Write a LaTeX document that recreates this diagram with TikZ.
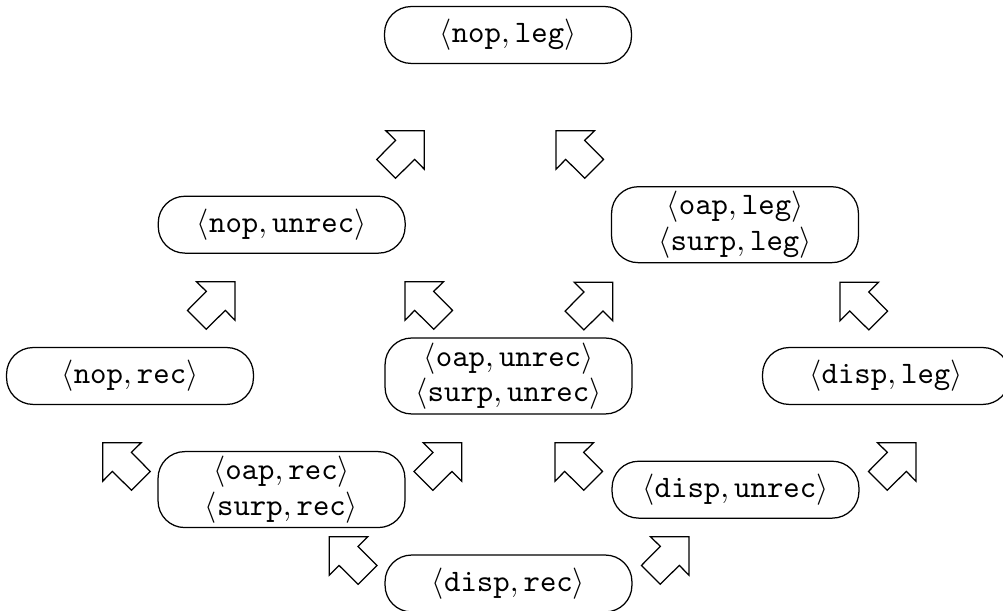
\documentclass[tikz,border=0pt]{standalone}
\begin{document}
\begin{tikzpicture}[x=0.32pt,y=-0.32pt,
  state/.style={draw, rounded corners=8.5pt, minimum width=79pt, minimum height=18.2pt, inner sep=1pt, align=center},
  dstate/.style={state, minimum height=24.3pt},
  nearrow/.pic={\draw[line join=miter] (0,0) -- (0,38.5) -- (-9.7,28.7) -- (-28.8,47.6) -- (-47.6,28.8) -- (-28.7,9.7) -- (-38.5,0) -- cycle;},
  nwarrow/.pic={\draw[line join=miter] (0,0) -- (0,38.5) -- (9.7,28.7) -- (28.8,47.6) -- (47.6,28.8) -- (28.7,9.7) -- (38.5,0) -- cycle;}
]
\newcommand{\st}[2]{$\langle\mathtt{#1},\mathtt{#2}\rangle$}
\useasboundingbox (0,0) rectangle (1003,611);
\clip (0,0) rectangle (1003,611);
\node[state] (nopleg) at (508,35) {\st{nop}{leg}};
\node[state] (nopunrec) at (281.7,224.7) {\st{nop}{unrec}};
\node[dstate] (oapleg) at (735,224.7) {\st{oap}{leg}\\[-0.7pt]\st{surp}{leg}};
\node[state] (noprec) at (130,376) {\st{nop}{rec}};
\node[dstate] (oapunrec) at (508.5,376) {\st{oap}{unrec}\\[-0.7pt]\st{surp}{unrec}};
\node[state] (displeg) at (886,376) {\st{disp}{leg}};
\node[dstate] (oaprec) at (281.5,489.6) {\st{oap}{rec}\\[-0.7pt]\st{surp}{rec}};
\node[state] (dispunrec) at (735.5,489.7) {\st{disp}{unrec}};
\node[state] (disprec) at (508.5,583.5) {\st{disp}{rec}};
\pic (a1) at (424.3,130.7) {nearrow};
\pic (a2) at (556,130.7) {nwarrow};
\pic (a3) at (235,281.7) {nearrow};
\pic (a4) at (405,281.7) {nwarrow};
\pic (a5) at (612.7,282.3) {nearrow};
\pic (a6) at (840,282.3) {nwarrow};
\pic (a7) at (102.7,442.7) {nwarrow};
\pic (a8) at (461.7,442.7) {nearrow};
\pic (a9) at (555,442.7) {nwarrow};
\pic (a10) at (916,442.7) {nearrow};
\pic (a11) at (329.3,536.7) {nwarrow};
\pic (a12) at (689,536.7) {nearrow};
\end{tikzpicture}
\end{document}
